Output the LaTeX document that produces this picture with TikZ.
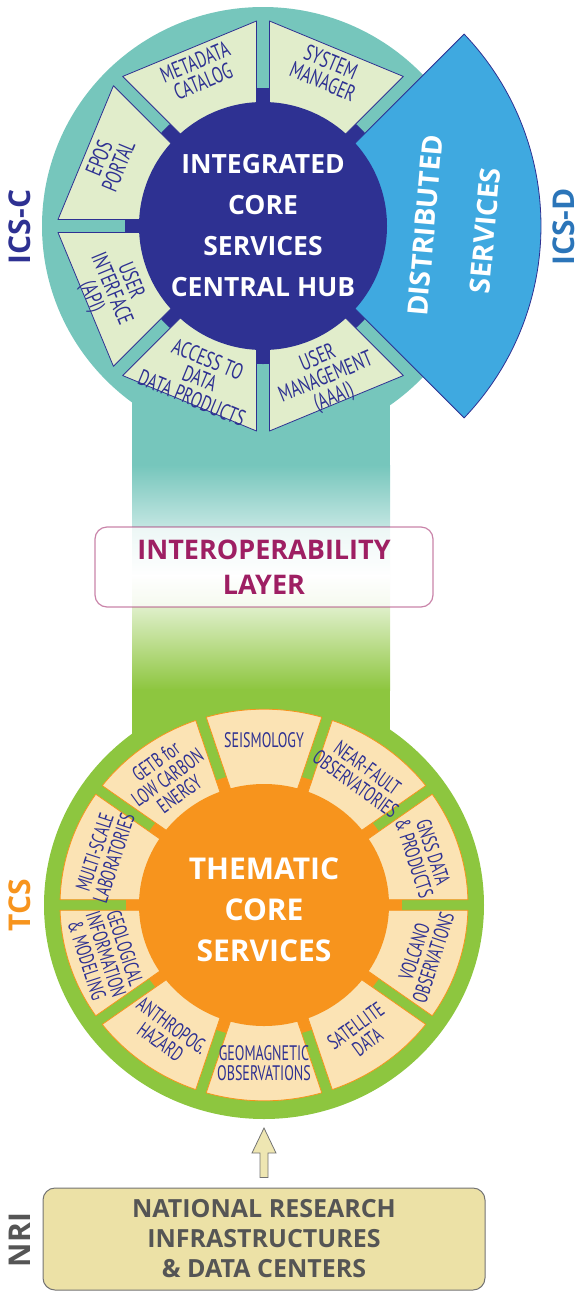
\documentclass[tikz,border=0pt]{standalone}
\usepackage{fontspec}
\setmainfont{Open Sans}
\newfontfamily\labf[FakeStretch=0.7]{PT Sans}
\newfontfamily\labt[FakeStretch=0.67]{PT Sans}
\usetikzlibrary{calc}
\definecolor{navy}{HTML}{2E3192}
\definecolor{teal1}{HTML}{76C6BC}
\definecolor{icsseg}{HTML}{E1EDCB}
\definecolor{dsblue}{HTML}{3FA9E0}
\definecolor{icsd}{HTML}{2B75B9}
\definecolor{grn}{HTML}{8DC63F}
\definecolor{orng}{HTML}{F7941D}
\definecolor{tcsseg}{HTML}{FBE3B4}
\definecolor{mag}{HTML}{9E1F63}
\definecolor{nrifill}{HTML}{ECE1A6}
\definecolor{nritext}{HTML}{555555}
\definecolor{arrowfill}{HTML}{EEE6B2}
\begin{document}
\begin{tikzpicture}[x=1pt,y=1pt,
  lab/.style={font=\labf\fontsize{22.5}{21}\selectfont, text=navy, align=center, inner sep=0pt},
  tlab/.style={font=\labt\fontsize{21}{20}\selectfont, text=navy, align=center, inner sep=0pt},
  side/.style={font=\bfseries\fontsize{30}{30}\selectfont, rotate=90, inner sep=0pt},
  iseg/.style={fill=icsseg, draw=navy, line width=0.8pt, line join=round},
  tseg/.style={fill=tcsseg, draw=orng, line width=0.8pt, line join=round},
  title/.style={font=\bfseries, text=white, align=center, inner sep=0pt},
]
\useasboundingbox (0,-1291) rectangle (580,0);
\coordinate (icsc) at (263,-226);
\coordinate (tcsc) at (264,-905);

% connecting bar
\fill[teal1] (132,-380) rectangle (390,-466);
\shade[top color=teal1, bottom color=white] (132,-465) rectangle (390,-576);
\shade[top color=white, bottom color=grn] (132,-575) rectangle (390,-690);
\fill[grn] (132,-689) rectangle (390,-780);

% ---------- ICS-C ----------
\fill[teal1] (icsc) ellipse [x radius=221, y radius=219];
\fill[navy] (icsc) circle (138);
\foreach \a in {45,90,...,270}{
  \pgfmathsetmacro\b{\a+45}
  \filldraw[iseg]
    ({263+110*cos(\a)-6.5*sin(\a)},{-226+110*sin(\a)+6.5*cos(\a)}) --
    ({263+205*cos(\a)-6.5*sin(\a)},{-226+205*sin(\a)+6.5*cos(\a)}) --
    ({263+205*cos(\b)+6.5*sin(\b)},{-226+205*sin(\b)-6.5*cos(\b)}) --
    ({263+110*cos(\b)+6.5*sin(\b)},{-226+110*sin(\b)-6.5*cos(\b)}) -- cycle;
}
% distributed services wedge
\filldraw[fill=dsblue, draw=navy, line width=0.8pt, line join=round]
  ({263+110*cos(-45)-6.5*sin(-45)},{-226+110*sin(-45)+6.5*cos(-45)}) --
  ({263+278*cos(-43.66)},{-226+278*sin(-43.66)})
  arc[start angle=-43.66, end angle=43.66, radius=278] --
  ({263+110*cos(45)+6.5*sin(45)},{-226+110*sin(45)-6.5*cos(45)}) -- cycle;
\fill[navy] (icsc) circle (124);

\node[title, font=\bfseries\fontsize{26.5}{41}\selectfont] (hub) at (263,-226) {INTEGRATED\\CORE\\SERVICES\\CENTRAL HUB};
\node[title, font=\bfseries\fontsize{28}{60}\selectfont, rotate=85] (ds) at (455,-228) {DISTRIBUTED\\SERVICES};

\node[lab, rotate=-22.5] (sysman) at ([shift={(67.5:167)}]icsc) {SYSTEM\\MANAGER};
\node[lab, rotate=22.5] (meta) at ([shift={(112.5:167)}]icsc) {METADATA\\CATALOG};
\node[lab, rotate=67.5] (epos) at ([shift={(157.5:167)}]icsc) {EPOS\\PORTAL};
\node[lab, rotate=-67.5] (ui) at ([shift={(202.5:165)}]icsc) {USER\\INTERFACE\\(API)};
\node[lab, rotate=-22.5] (access) at ([shift={(247.5:165)}]icsc) {ACCESS TO\\DATA\\DATA PRODUCTS};
\node[lab, rotate=22.5] (um) at ([shift={(292.5:165)}]icsc) {USER\\MANAGEMENT\\(AAAI)};

% ---------- Interoperability ----------
\node[draw=mag, draw opacity=0.55, fill=white, fill opacity=0.7, text opacity=1, text=mag,
  rounded corners=12pt, line width=1.2pt, minimum width=338pt, minimum height=80pt,
  font=\bfseries\fontsize{27}{35}\selectfont, align=center] (interop) at (264,-567) {INTEROPERABILITY\\LAYER};

% ---------- TCS ----------
\fill[grn] (tcsc) ellipse [x radius=220, y radius=214];
\fill[orng] (tcsc) ellipse [x radius=138, y radius=133];
\foreach \a in {0,36,...,324}{
  \pgfmathsetmacro\b{\a+36}
  \filldraw[tseg]
    ({264+110*cos(\a)-5.5*sin(\a)},{-905+0.96*(110*sin(\a)+5.5*cos(\a))}) --
    ({264+204*cos(\a+1.55)},{-905+0.96*204*sin(\a+1.55)})
    arc[start angle=\a+1.55, end angle=\b-1.55, x radius=204, y radius=195.84] --
    ({264+110*cos(\b)+5.5*sin(\b)},{-905+0.96*(110*sin(\b)-5.5*cos(\b))}) -- cycle;
}
\fill[orng] (tcsc) ellipse [x radius=125, y radius=121];
\node[title, font=\bfseries\fontsize{30}{41}\selectfont] (tcstitle) at (264,-910) {THEMATIC\\CORE\\SERVICES};

\node[tlab] (seis) at ([shift={({172*cos(90)},{0.96*172*sin(90)})}]tcsc) {SEISMOLOGY};
\node[tlab, rotate=-36] (nf) at ([shift={({166*cos(54)},{0.96*166*sin(54)})}]tcsc) {NEAR-FAULT\\OBSERVATORIES};
\node[tlab, rotate=-72] (gnss) at ([shift={({168*cos(18)},{0.96*168*sin(18)})}]tcsc) {GNSS DATA\\\& PRODUCTS};
\node[tlab, rotate=72] (volc) at ([shift={({168*cos(-18)},{0.96*168*sin(-18)})}]tcsc) {VOLCANO\\OBSERVATIONS};
\node[tlab, rotate=36] (sat) at ([shift={({166*cos(-54)},{0.96*166*sin(-54)})}]tcsc) {SATELLITE\\DATA};
\node[tlab] (geomag) at ([shift={({165*cos(-90)},{0.96*165*sin(-90)})}]tcsc) {GEOMAGNETIC\\OBSERVATIONS};
\node[tlab, rotate=-36] (anth) at ([shift={({166*cos(-126)},{0.96*166*sin(-126)})}]tcsc) {ANTHROPOG.\\HAZARD};
\node[tlab, rotate=-72] (geol) at ([shift={({166*cos(-162)},{0.96*166*sin(-162)})}]tcsc) {GEOLOGICAL\\INFORMATION\\\& MODELING};
\node[tlab, rotate=72] (multi) at ([shift={({168*cos(162)},{0.96*168*sin(162)})}]tcsc) {MULTI-SCALE\\LABORATORIES};
\node[tlab, rotate=36] (getb) at ([shift={({164*cos(126)},{0.96*164*sin(126)})}]tcsc) {GETB for\\LOW CARBON\\ENERGY};

% ---------- NRI ----------
\node[draw=black!55, fill=nrifill, rounded corners=12pt, minimum width=442pt, minimum height=102pt,
  line width=1pt, font=\bfseries\fontsize{25}{30}\selectfont, text=nritext, align=center]
  (nri) at (264,-1239) {NATIONAL RESEARCH\\INFRASTRUCTURES\\\& DATA CENTERS};
\coordinate (atip) at (264,-1128);
\coordinate (abase) at ($(nri.north)+(0,10)$);
\filldraw[fill=arrowfill, draw=black!55, line width=0.8pt, line join=miter]
  ($(abase)+(-4,0)$) -- ($(atip)+(-4,-25)$) -- ($(atip)+(-12,-25)$) -- (atip) --
  ($(atip)+(12,-25)$) -- ($(atip)+(4,-25)$) -- ($(abase)+(4,0)$) -- cycle;

% ---------- side labels ----------
\node[side, text=navy] (icsC) at (20,-227) {ICS-C};
\node[side, text=icsd] (icsD) at (564,-227) {ICS-D};
\node[side, text=orng] (tcsL) at (20,-905) {TCS};
\node[side, text=nritext] (nriL) at (20,-1240) {NRI};
\end{tikzpicture}
\end{document}
